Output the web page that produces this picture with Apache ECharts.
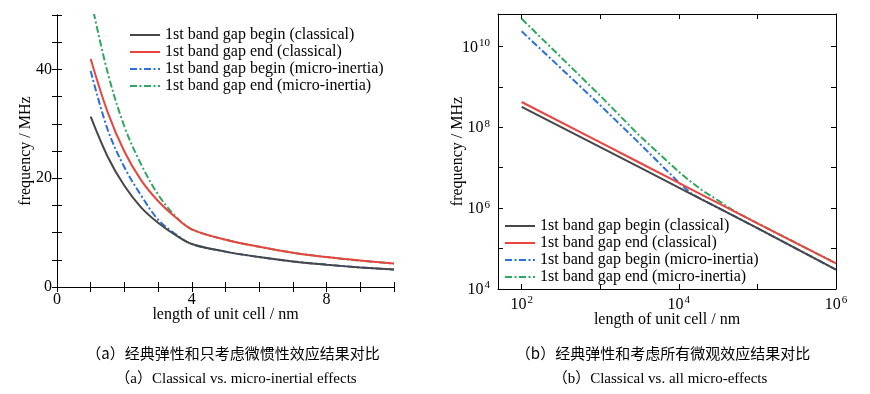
<!DOCTYPE html>
<html>
<head>
<meta charset="utf-8">
<script src="https://cdn.jsdelivr.net/npm/echarts@6/dist/echarts.min.js"></script>
<style>
html,body{margin:0;padding:0;background:#fff;}
#chart{width:870px;height:394px;}
</style>
</head>
<body>
<div id="chart"></div>
<script>
// ---------- data: panel (a) ----------
const lengthA = [1, 1.5, 2, 2.5, 3, 3.5, 4, 5, 6, 7, 8, 9, 10];
const beginClassicalA = [31.3, 24.0, 18.6, 14.6, 11.8, 9.6, 7.9, 6.5, 5.5, 4.7, 4.1, 3.6, 3.2];
const endClassicalA   = [41.9, 32.2, 24.9, 19.6, 15.8, 12.9, 10.6, 8.7, 7.4, 6.3, 5.5, 4.85, 4.3];
const beginMicroA     = [39.7, 29.0, 22.0, 16.8, 12.4, 9.8, 7.9, 6.5, 5.5, 4.7, 4.1, 3.6, 3.2];
const endMicroA       = [53.0, 39.5, 29.5, 22.5, 17.0, 13.1, 10.6, 8.7, 7.4, 6.3, 5.5, 4.85, 4.3];

// ---------- data: panel (b) ----------
const lengthB = [100, 1000, 3000, 10000, 14000, 20000, 30000, 50000, 100000, 1000000];
const beginClassicalB = [3.2e8, 3.2e7, 1.07e7, 3.2e6, 2.29e6, 1.6e6, 1.07e6, 6.4e5, 3.2e5, 3.0e4];
const endClassicalB   = [4.2e8, 4.2e7, 1.4e7, 4.2e6, 3.0e6, 2.1e6, 1.4e6, 8.4e5, 4.2e5, 4.3e4];
const beginMicroB     = [2.35e10, 3.5e8, 4.4e7, 4.3e6, 2.4e6, 1.6e6, 1.07e6, 6.4e5, 3.2e5, 3.0e4];
const endMicroB       = [4.8e10, 6.0e8, 6.8e7, 7.9e6, 4.6e6, 2.7e6, 1.66e6, 8.6e5, 4.25e5, 4.3e4];

const seriesNames = [
  '1st band gap begin (classical)',
  '1st band gap end (classical)',
  '1st band gap begin (micro-inertia)',
  '1st band gap end (micro-inertia)'
];
const tickLabelsA_x = [0, 4, 8];
const tickLabelsA_y = [0, 20, 40];
const captions = [
  '（a）经典弹性和只考虑微惯性效应结果对比',
  '（a）Classical vs. micro-inertial effects',
  '（b）经典弹性和考虑所有微观效应结果对比',
  '（b）Classical vs. all micro-effects'
];

const SERIF = 'Liberation Serif, Times New Roman, serif';
const colors = ['#474747', '#e9443f', '#2a6fdc', '#2ea760'];
const dashDot = [7, 2.5, 2, 2.5];
const styles = [
  {color: colors[0], width: 2, type: 'solid'},
  {color: colors[1], width: 2, type: 'solid'},
  {color: colors[2], width: 2, type: dashDot},
  {color: colors[3], width: 2, type: dashDot}
];

const zip = (xs, ys) => xs.map((x, i) => [x, ys[i]]);
const dataA = [beginClassicalA, endClassicalA, beginMicroA, endMicroA];
const dataB = [beginClassicalB, endClassicalB, beginMicroB, endMicroB];

const axisLine = {show: true, lineStyle: {color: '#000', width: 1}};
const tickIn = {show: true, inside: true, length: 5, lineStyle: {color: '#000', width: 1}};
const labelFont = {color: '#000', fontFamily: SERIF, fontSize: 16};

function supFormatter(allowed) {
  return function (v) {
    const e = Math.round(Math.log10(v));
    if (Math.abs(Math.log10(v) - e) > 1e-6) return '';
    if (allowed.indexOf(e) < 0) return '';
    return '{b|10}{s|' + e + '}';
  };
}
const supRich = {
  b: {fontFamily: SERIF, fontSize: 16, color: '#000', lineHeight: 18, verticalAlign: 'bottom'},
  s: {fontFamily: SERIF, fontSize: 11, color: '#000', lineHeight: 18, verticalAlign: 'top', padding: [0, 0, 6, 1]}
};

const series = [];
seriesNames.forEach((n, i) => {
  series.push({
    name: n, type: 'line', xAxisIndex: 0, yAxisIndex: 0,
    data: zip(lengthA, dataA[i]), showSymbol: false, symbol: 'none',
    smooth: 0.35, lineStyle: styles[i], color: colors[i], z: 10 - i
  });
});
seriesNames.forEach((n, i) => {
  series.push({
    name: n, type: 'line', xAxisIndex: 2, yAxisIndex: 2,
    data: zip(lengthB, dataB[i]), showSymbol: false, symbol: 'none',
    lineStyle: styles[i], color: colors[i], z: 10 - i
  });
});

const legendBase = {
  orient: 'vertical', itemWidth: 30, itemHeight: 14, itemGap: 1, itemTextGap: 4, padding: 0,
  itemStyle: {color: 'rgba(0,0,0,0)', borderWidth: 0, opacity: 0},
  textStyle: {color: '#000', fontFamily: SERIF, fontSize: 16},
  data: seriesNames, selectedMode: false
};

const option = {
  animation: false,
  backgroundColor: '#fff',
  grid: [
    {left: 57, top: 15, width: 337, height: 272},
    {left: 498, top: 14, width: 338, height: 275}
  ],
  legend: [
    Object.assign({left: 129, top: 27}, legendBase),
    Object.assign({left: 504, top: 218}, legendBase)
  ],
  xAxis: [
    {type: 'value', gridIndex: 0, position: 'bottom', min: 0, max: 10, interval: 1,
     axisLine, axisTick: tickIn, splitLine: {show: false},
     axisLabel: Object.assign({margin: 5, formatter: v => tickLabelsA_x.indexOf(v) >= 0 ? String(v) : ''}, labelFont),
     name: 'length of unit cell / nm', nameLocation: 'middle', nameGap: 20, nameMoveOverlap: false,
     nameTextStyle: labelFont},
    {type: 'value', gridIndex: 0, position: 'top', min: 0, max: 10, interval: 1,
     axisLine, axisTick: tickIn, splitLine: {show: false}, axisLabel: {show: false}},
    {type: 'log', logBase: 10, gridIndex: 1, position: 'bottom', min: 50, max: 1e6,
     axisLine, axisTick: tickIn, splitLine: {show: false}, minorTick: {show: false},
     axisLabel: {margin: 6, formatter: supFormatter([2, 4, 6]), rich: supRich},
     name: 'length of unit cell / nm', nameLocation: 'middle', nameGap: 23, nameMoveOverlap: false,
     nameTextStyle: labelFont},
    {type: 'log', logBase: 10, gridIndex: 1, position: 'top', min: 50, max: 1e6,
     axisLine, axisTick: tickIn, splitLine: {show: false}, axisLabel: {show: false}}
  ],
  yAxis: [
    {type: 'value', gridIndex: 0, position: 'left', min: 0, max: 50, interval: 5,
     axisLine, axisTick: tickIn, splitLine: {show: false},
     axisLabel: Object.assign({margin: 5, formatter: v => tickLabelsA_y.indexOf(v) >= 0 ? String(v) : ''}, labelFont),
     name: 'frequency / MHz', nameLocation: 'middle', nameGap: 23, nameRotate: 90, nameMoveOverlap: false,
     nameTextStyle: labelFont},
    {type: 'value', gridIndex: 0, position: 'right', min: 0, max: 50, interval: 5,
     axisLine, axisTick: tickIn, splitLine: {show: false}, axisLabel: {show: false}},
    {type: 'log', logBase: 10, gridIndex: 1, position: 'left', min: 1e4, max: 6.3e10,
     axisLine, axisTick: tickIn, splitLine: {show: false},
     axisLabel: {margin: 8, formatter: supFormatter([4, 6, 8, 10]), rich: supRich},
     name: 'frequency / MHz', nameLocation: 'middle', nameGap: 32, nameRotate: 90, nameMoveOverlap: false,
     nameTextStyle: labelFont},
    {type: 'log', logBase: 10, gridIndex: 1, position: 'right', min: 1e4, max: 6.3e10,
     axisLine, axisTick: tickIn, splitLine: {show: false}, axisLabel: {show: false}}
  ],
  graphic: [
    {type: 'text', x: 233, y: 353, style: {text: captions[0], align: 'center', verticalAlign: 'middle', fill: '#000', font: '15px "Noto Sans CJK SC", sans-serif'}},
    {type: 'text', x: 236, y: 379, style: {text: captions[1], align: 'center', verticalAlign: 'middle', fill: '#000', font: '15px "Liberation Serif", "Noto Sans CJK SC", serif'}},
    {type: 'text', x: 663, y: 353, style: {text: captions[2], align: 'center', verticalAlign: 'middle', fill: '#000', font: '15px "Noto Sans CJK SC", sans-serif'}},
    {type: 'text', x: 660, y: 379, style: {text: captions[3], align: 'center', verticalAlign: 'middle', fill: '#000', font: '15px "Liberation Serif", "Noto Sans CJK SC", serif'}}
  ],
  series
};

const chart = echarts.init(document.getElementById('chart'), null, {renderer: 'canvas'});
chart.setOption(option);
</script>
</body>
</html>
